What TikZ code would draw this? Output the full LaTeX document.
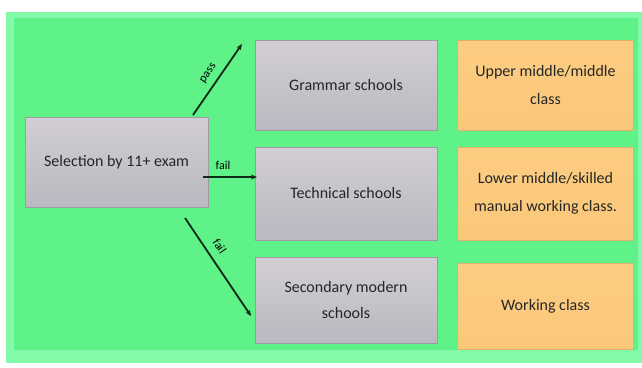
\documentclass[tikz,border=0pt]{standalone}
\usepackage{fontspec}
\setmainfont{Carlito}
\usetikzlibrary{arrows.meta}
\definecolor{bggreen}{RGB}{94,242,136}
\definecolor{edgegreen}{RGB}{130,250,168}
\definecolor{greytop}{RGB}{210,206,212}
\definecolor{greybot}{RGB}{186,184,192}
\definecolor{orangetop}{RGB}{252,204,130}
\definecolor{orangebot}{RGB}{250,200,122}
\definecolor{inkgreen}{RGB}{12,42,22}
\tikzset{
  greybox/.style={rectangle, top color=greytop, bottom color=greybot, draw=greybot!85!black, line width=0.6pt,
    minimum width=182pt, minimum height=90pt, align=center, font=\fontsize{16}{26}\selectfont, text=black!85},
  classbox/.style={rectangle, top color=orangetop, bottom color=orangebot, draw=orangebot!88!black, line width=0.6pt,
    minimum width=176pt, minimum height=90pt, align=center, font=\fontsize{16}{28}\selectfont, text=black!85},
  link/.style={draw=inkgreen, line width=1.8pt, -{Stealth[length=6pt,width=5pt]}},
  linklabel/.style={font=\fontsize{12}{13}\selectfont, text=black, inner sep=1pt}
}
\begin{document}
\begin{tikzpicture}[x=1pt,y=-1pt]
  \useasboundingbox (0,0) rectangle (642,367);
  \fill[white] (0,0) rectangle (642,367);
  % background panel with a lighter rim
  \fill[edgegreen] (6,12) rectangle (642,363);
  \fill[bggreen] (14,18) rectangle (638,350);

  % selection node
  \node[greybox, minimum width=183pt, minimum height=90pt] (sel) at (116.5,162) {Selection by 11+ exam};

  % school types
  \node[greybox] (gram) at (346,85) {Grammar schools};
  \node[greybox, minimum height=93pt] (tech) at (346,193.5) {Technical schools};
  \node[greybox, minimum height=86pt] (sec) at (346,300) {Secondary modern\\schools};

  % social classes
  \node[classbox] (upper) at (545.5,85) {Upper middle/middle\\class};
  \node[classbox, minimum height=93pt] (lower) at (545.5,193.5) {Lower middle/skilled\\manual working class.};
  \node[classbox, minimum height=86pt] (work) at (545.5,306) {Working class};

  % outcome arrows
  \coordinate (p0) at (193,115);
  \coordinate (p1) at (242,44);
  \coordinate (f0) at (203,177);
  \coordinate (f1) at (257,177);
  \coordinate (q0) at (185,218);
  \coordinate (q1) at (251,316);
  \draw[link] (p0) -- node[linklabel, sloped, above=5pt, pos=0.5] {pass} (p1);
  \draw[link] (f0) -- node[linklabel, above=6pt, pos=0.37] {fail} (f1);
  \draw[link] (q0) -- node[linklabel, sloped, above=7pt, pos=0.36] {fail} (q1);
\end{tikzpicture}
\end{document}
